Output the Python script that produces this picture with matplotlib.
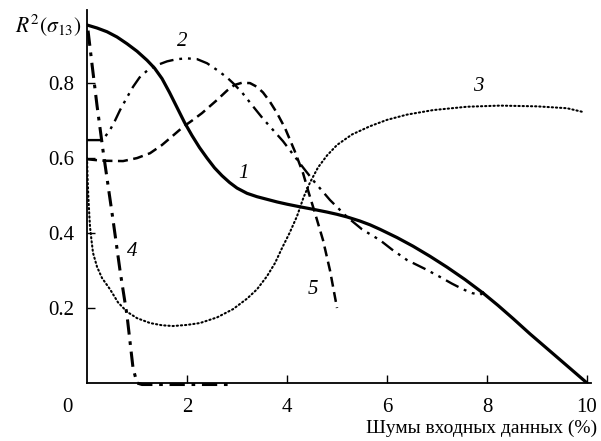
import matplotlib
matplotlib.use("Agg")
import matplotlib.pyplot as plt

plt.rcParams['font.family'] = ['Liberation Serif', 'DejaVu Serif']
plt.rcParams['mathtext.fontset'] = 'stix'

# curve 1 (solid)
x1 = [0, 0.2, 0.4, 0.6, 0.8, 1.0, 1.2, 1.35, 1.5, 1.65, 1.8, 1.95, 2.1, 2.25, 2.4, 2.55,
      2.7, 2.85, 3.0, 3.2, 3.4, 3.6, 3.8, 4.0, 4.26, 4.5, 4.8, 5.0, 5.2, 5.46, 5.66, 5.86,
      6.2, 6.52, 6.86, 7.2, 7.56, 7.92, 8.22, 8.52, 8.86, 9.2, 9.6, 10.0]
y1 = [0.955, 0.947, 0.937, 0.923, 0.905, 0.885, 0.861, 0.84, 0.812, 0.775, 0.735, 0.695,
      0.66, 0.628, 0.6, 0.574, 0.553, 0.535, 0.52, 0.506, 0.497, 0.49, 0.483, 0.477, 0.47,
      0.464, 0.456, 0.45, 0.443, 0.432, 0.422, 0.41, 0.388, 0.365, 0.338, 0.309, 0.276,
      0.24, 0.207, 0.172, 0.131, 0.092, 0.046, 0.0]

# curve 2 (dash-dot-dot)
x2 = [0, 0.28, 0.35, 0.46, 0.56, 0.66, 0.8, 0.92, 1.05, 1.2, 1.4, 1.6, 1.8, 2.0, 2.2,
      2.4, 2.6, 2.8, 2.92, 3.1, 3.32, 3.52, 3.72, 3.92, 4.12, 4.32, 4.52, 4.86, 5.2, 5.5,
      5.86, 6.1, 6.4, 6.75, 7.06, 7.3, 7.52, 7.7, 7.86, 7.94]
y2 = [0.648, 0.648, 0.655, 0.675, 0.7, 0.728, 0.762, 0.79, 0.815, 0.833, 0.848, 0.858,
      0.864, 0.866, 0.864, 0.853, 0.835, 0.815, 0.8, 0.775, 0.738, 0.705, 0.675, 0.645,
      0.61, 0.575, 0.541, 0.488, 0.443, 0.41, 0.381, 0.356, 0.328, 0.305, 0.283, 0.265,
      0.25, 0.24, 0.235, 0.243]

# curve 3 (dotted)
x3 = [0, 0.01, 0.025, 0.045, 0.06, 0.09, 0.12, 0.2, 0.3, 0.46, 0.62, 0.8, 1.0, 1.26,
      1.5, 1.72, 2.0, 2.26, 2.6, 2.92, 3.2, 3.4, 3.6, 3.76, 3.9, 4.05, 4.2, 4.33, 4.46,
      4.62, 4.8, 5.0, 5.3, 5.66, 6.0, 6.4, 6.92, 7.6, 8.26, 9.0, 9.6, 9.92]
y3 = [0.6, 0.55, 0.5, 0.45, 0.416, 0.38, 0.347, 0.31, 0.28, 0.25, 0.215, 0.19, 0.173,
      0.16, 0.154, 0.152, 0.155, 0.16, 0.175, 0.197, 0.225, 0.25, 0.285, 0.32, 0.36, 0.4,
      0.445, 0.495, 0.535, 0.575, 0.607, 0.635, 0.663, 0.685, 0.702, 0.716, 0.728, 0.737,
      0.74, 0.738, 0.733, 0.723]

# curve 4 (dash-dot)
x4 = [0.02, 0.1, 0.2, 0.32, 0.52, 0.66, 0.8, 0.92, 1.0, 1.1, 2.86]
y4 = [0.94, 0.85, 0.74, 0.62, 0.435, 0.3, 0.18, 0.04, 0.0, -0.004, -0.004]

# curve 5 (dashed)
x5 = [0, 0.3, 0.72, 1.0, 1.26, 1.5, 1.72, 1.92, 2.1, 2.3, 2.6, 2.8, 2.95, 3.1, 3.26,
      3.4, 3.52, 3.65, 3.8, 3.96, 4.15, 4.32, 4.44, 4.56, 4.72, 4.86, 5.0]
y5 = [0.597, 0.593, 0.592, 0.6, 0.613, 0.635, 0.66, 0.683, 0.7, 0.72, 0.755, 0.78, 0.795,
      0.801, 0.8, 0.79, 0.775, 0.752, 0.72, 0.68, 0.62, 0.56, 0.505, 0.453, 0.381, 0.3,
      0.2]

curve_labels = ["1", "2", "3", "4", "5"]
label_pos = [(3.12, 0.56), (1.9, 0.91), (7.82, 0.79), (0.9, 0.35), (4.52, 0.25)]

fig = plt.figure(figsize=(6.01, 4.41), dpi=100)
ax = fig.add_axes([0.1448, 0.1315, 0.8386, 0.8458])

ax.plot(x1, y1, color="black", linewidth=2.3, solid_capstyle="round", solid_joinstyle="round")
ax.plot(x2, y2, color="black", linewidth=1.7, dashes=[6, 2.5, 1.2, 2.5, 1.2, 2.5])
ax.plot(x3, y3, color="black", linewidth=1.5, linestyle=(0, (0.6, 1.4)), dash_capstyle="round")
ax.plot(x4, y4, color="black", linewidth=2.2, dashes=[5, 2.2, 1.2, 2.2], clip_on=False)
ax.plot(x5, y5, color="black", linewidth=1.8, dashes=[4, 2.2])

for lab, (lx, ly) in zip(curve_labels, label_pos):
    ax.text(lx, ly, lab, fontsize=15, style="italic", ha="center", va="center")

ax.set_xlim(0, 10.08)
ax.set_ylim(0, 0.995)
ax.set_xticks([2, 4, 6, 8, 10])
ax.set_yticks([0.2, 0.4, 0.6, 0.8])
ax.set_yticklabels(["0.2", "0.4", "0.6", "0.8"])
ax.tick_params(direction="in", length=6, width=1, labelsize=15, pad=11)
ax.tick_params(axis="y", pad=9)
for s in ["top", "right"]:
    ax.spines[s].set_visible(False)
for s in ["left", "bottom"]:
    ax.spines[s].set_linewidth(1.3)

fig.text(67 / 601, 1 - 407 / 441, "0", fontsize=15, ha="center", va="center")
fig.text(81 / 601, 1 - 25 / 441, r"$R^2(\sigma_{13})$", fontsize=15.5, ha="right", va="center")
fig.text(597 / 601, 1 - 428 / 441, "Шумы входных данных (%)", fontsize=14,
         ha="right", va="center")

fig.savefig("out.png", dpi=100)
